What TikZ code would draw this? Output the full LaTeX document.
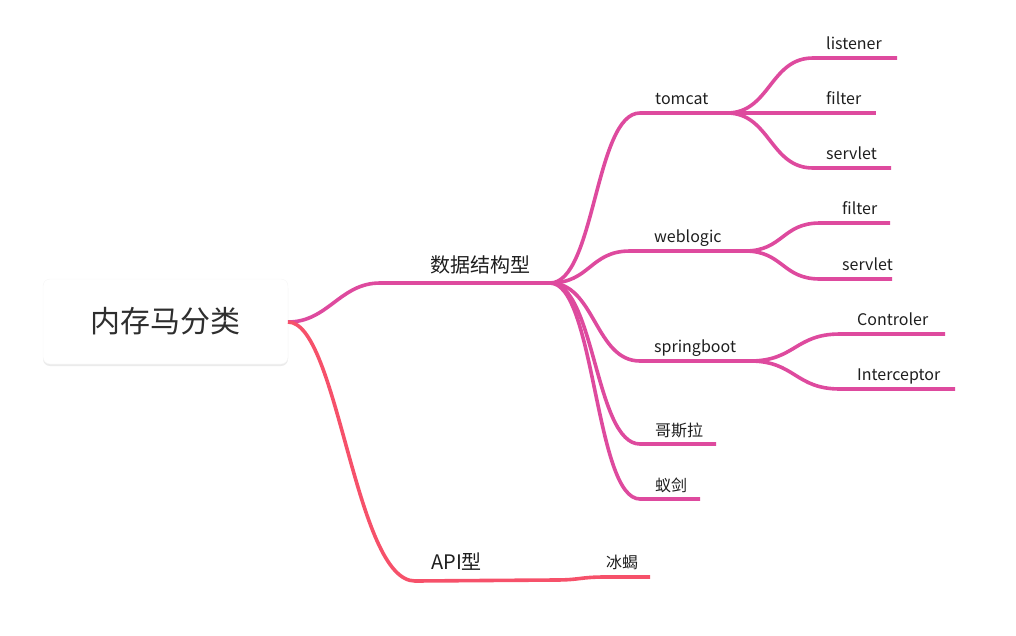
\documentclass[tikz,border=0pt]{standalone}
\usepackage{fontspec}
\setmainfont{Noto Sans CJK SC}
\usetikzlibrary{shadows}
\definecolor{topicpink}{HTML}{DE4A9E}
\definecolor{apired}{HTML}{F6516A}
\definecolor{inkgray}{HTML}{1E1E1E}

\begin{document}
\begin{tikzpicture}[x=1pt,y=-1pt,
	branch/.style={line width=3.6pt,topicpink},
	apibranch/.style={line width=3.6pt,apired},
	lbl/.style={anchor=base west,inner sep=0pt,text=inkgray,font=\fontsize{16}{16}\selectfont},
	mainlbl/.style={lbl,font=\fontsize{20}{20}\selectfont},
	rootbox/.style={rounded corners=7pt,fill=white,draw=black!4,minimum width=245pt,minimum height=85pt,
		drop shadow={shadow xshift=0pt,shadow yshift=-2pt,opacity=0.08,fill=black},
		text=black!82,font=\fontsize{30}{30}\selectfont}]
		\useasboundingbox (0,0) rectangle (1016,635);

		% root
		\node[rootbox](root) at (165.5,321.5){内存马分类};
		\coordinate(r) at (288,322);

		% main branches
		\coordinate(data-s) at (380,283);
		\coordinate(data-e) at (550,283);
		\node[mainlbl](data) at (430,272){数据结构型};

		\coordinate(api-s) at (415,581);
		\coordinate(api-e) at (555,580);
		\node[mainlbl](api) at (431,569){API型};

		\draw[branch] (r) .. controls +(40,0) and +(-40,0) .. (data-s) -- (data-e);
		\draw[apibranch] (r) .. controls +(50,0) and +(-60,0) .. (api-s) -- (api-e);

		% API
		\coordinate(bx-s) at (605,577);
		\coordinate(bx-e) at (650,577);
		\node[lbl](bx) at (606,568){冰蝎};
		\draw[apibranch] (api-e) .. controls +(25,0) and +(-25,0) .. (bx-s) -- (bx-e);

		% data structures
		\coordinate(tomcat-s) at (640,113);
		\coordinate(tomcat-e) at (727,113);
		\node[lbl](tomcat) at (655,104){tomcat};

		\coordinate(weblogic-s) at (630,251);
		\coordinate(weblogic-e) at (745,251);
		\node[lbl](weblogic) at (654,242){weblogic};

		\coordinate(spring-s) at (640,361);
		\coordinate(spring-e) at (750,361);
		\node[lbl](spring) at (654,352){springboot};

		\coordinate(gsl-s) at (640,444);
		\coordinate(gsl-e) at (716,444);
		\node[lbl](gsl) at (655,436){哥斯拉};

		\coordinate(yj-s) at (640,499);
		\coordinate(yj-e) at (700,499);
		\node[lbl](yj) at (655,491){蚁剑};

		\draw[branch] (data-e) .. controls +(45,0) and +(-45,0) .. (tomcat-s) -- (tomcat-e);
		\draw[branch] (data-e) .. controls +(40,0) and +(-40,0) .. (weblogic-s) -- (weblogic-e);
		\draw[branch] (data-e) .. controls +(45,0) and +(-45,0) .. (spring-s) -- (spring-e);
		\draw[branch] (data-e) .. controls +(45,0) and +(-45,0) .. (gsl-s) -- (gsl-e);
		\draw[branch] (data-e) .. controls +(45,0) and +(-45,0) .. (yj-s) -- (yj-e);

		% tomcat
		\coordinate(listener-s) at (813,58);
		\coordinate(listener-e) at (897,58);
		\node[lbl](listener) at (826,49){listener};
		\coordinate(tfilter-e) at (876,113);
		\node[lbl](tfilter) at (826,104){filter};
		\coordinate(tservlet-s) at (813,168);
		\coordinate(tservlet-e) at (891,168);
		\node[lbl](tservlet) at (826,159){servlet};

		\draw[branch] (tomcat-e) .. controls +(43,0) and +(-43,0) .. (listener-s) -- (listener-e);
		\draw[branch] (tomcat-e) -- (tfilter-e);
		\draw[branch] (tomcat-e) .. controls +(43,0) and +(-43,0) .. (tservlet-s) -- (tservlet-e);

		% weblogic
		\coordinate(wfilter-s) at (820,223);
		\coordinate(wfilter-e) at (890,223);
		\node[lbl](wfilter) at (842,214){filter};
		\coordinate(wservlet-s) at (820,279);
		\coordinate(wservlet-e) at (892,279);
		\node[lbl](wservlet) at (842,270){servlet};

		\draw[branch] (weblogic-e) .. controls +(38,0) and +(-38,0) .. (wfilter-s) -- (wfilter-e);
		\draw[branch] (weblogic-e) .. controls +(38,0) and +(-38,0) .. (wservlet-s) -- (wservlet-e);

		% springboot
		\coordinate(ctrl-s) at (840,334);
		\coordinate(ctrl-e) at (945,334);
		\node[lbl](ctrl) at (857,325){Controler};
		\coordinate(icpt-s) at (840,389);
		\coordinate(icpt-e) at (955,389);
		\node[lbl](icpt) at (857,380){Interceptor};

		\draw[branch] (spring-e) .. controls +(45,0) and +(-45,0) .. (ctrl-s) -- (ctrl-e);
		\draw[branch] (spring-e) .. controls +(45,0) and +(-45,0) .. (icpt-s) -- (icpt-e);
	\end{tikzpicture}
\end{document}
